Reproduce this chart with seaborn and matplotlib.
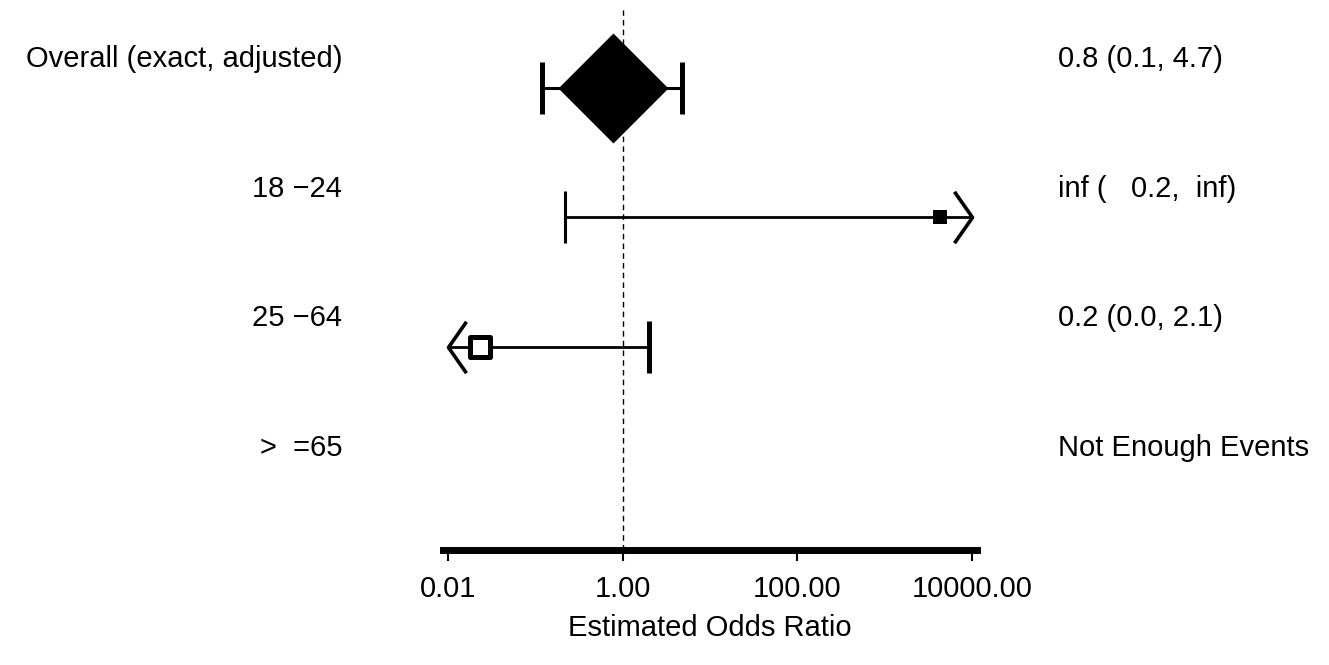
import numpy as np
import pandas as pd
import matplotlib
matplotlib.use("Agg")
import matplotlib.pyplot as plt
import seaborn as sns
from matplotlib import transforms
from matplotlib.ticker import FixedLocator, FixedFormatter, NullLocator

# ---------------- data ----------------
row_labels = ["Overall (exact, adjusted)", "18 \u221224", "25 \u221264", ">  =65"]
estimates = [0.77, 4300.0, 0.023, np.nan]
ci_lower = [0.12, 0.22, 0.01, np.nan]
ci_upper = [4.75, 10000.0, 2.0, np.nan]
lower_open = [False, False, True, False]   # CI runs off the left edge -> arrow
upper_open = [False, True, False, False]   # CI runs off the right edge -> arrow
summary_text = ["0.8 (0.1, 4.7)", "inf (   0.2,  inf)", "0.2 (0.0, 2.1)",
                "Not Enough Events"]
tick_values = [0.01, 1.0, 100.0, 10000.0]
tick_labels = ["0.01", "1.00", "100.00", "10000.00"]
x_title = "Estimated Odds Ratio"
reference_value = 1.0

# ---------------- styling ----------------
sns.set_style("white")
plt.rcParams["font.family"] = ["Liberation Sans", "DejaVu Sans"]

W, H = 1329, 665
fig = plt.figure(figsize=(W / 100, H / 100), dpi=100)
ax = fig.add_axes([443 / W, (H - 550) / H, 534 / W, 540 / H])

ax.set_xscale("log")
ax.set_xlim(10 ** -2.058, 10 ** 4.057)
ax.set_ylim(3.568, -0.602)

rows = np.arange(len(row_labels))

# reference line
ax.axvline(reference_value, color="black", lw=1.0, ls=(0, (4, 3)), zorder=1)

marker_styles = ["D", "s", "s", None]
marker_sizes = [3136, 100, 207, 0]
marker_faces = ["black", "black", "white", "white"]
marker_edges = [0, 0, 3.6, 0]
cap_widths = [3.6, 2.2, 3.6, 0]
line_widths = [2.2, 2.0, 2.0, 0]

right_chevron = [(-0.7, 1.0), (0.0, 0.0), (-0.7, -1.0)]
left_chevron = [(0.7, 1.0), (0.0, 0.0), (0.7, -1.0)]

for i, y in enumerate(rows):
    est, lo, hi = estimates[i], ci_lower[i], ci_upper[i]
    if np.isnan(est):
        continue
    ax.plot([lo, hi], [y, y], color="black", lw=line_widths[i], zorder=2,
            solid_capstyle="butt")
    # lower end
    if lower_open[i]:
        ax.plot([lo], [y], marker=left_chevron, ms=37, mfc="none", mec="black",
                mew=2.6, ls="none", zorder=3)
    else:
        ax.plot([lo], [y], marker="|", ms=37, mec="black", mew=cap_widths[i],
                ls="none", zorder=3)
    # upper end
    if upper_open[i]:
        ax.plot([hi], [y], marker=right_chevron, ms=37, mfc="none", mec="black",
                mew=2.6, ls="none", zorder=3)
    else:
        ax.plot([hi], [y], marker="|", ms=37, mec="black", mew=cap_widths[i],
                ls="none", zorder=3)
    # point estimate
    sns.scatterplot(x=[est], y=[y], ax=ax, marker=marker_styles[i],
                    s=marker_sizes[i], color=marker_faces[i],
                    edgecolor="black", linewidth=marker_edges[i], zorder=4,
                    legend=False)

# axis styling
for side in ["top", "left", "right"]:
    ax.spines[side].set_visible(False)
ax.spines["bottom"].set_linewidth(5)
ax.spines["bottom"].set_color("black")
ax.xaxis.set_major_locator(FixedLocator(tick_values))
ax.xaxis.set_major_formatter(FixedFormatter(tick_labels))
ax.xaxis.set_minor_locator(NullLocator())
ax.tick_params(axis="x", which="major", bottom=True, direction="out", length=8,
               width=1.5, pad=10, labelsize=21, colors="black")
ax.set_yticks([])
ax.set_ylabel("")
ax.set_xlabel(x_title, fontsize=21, labelpad=8, color="black")
ax.set_facecolor("white")
fig.patch.set_facecolor("white")

# row labels (left) and summaries (right)
trans = transforms.blended_transform_factory(fig.transFigure, ax.transData)
for i, y in enumerate(rows):
    ax.text(342 / W, y - 0.22, row_labels[i], transform=trans, ha="right",
            va="center", fontsize=21, color="black", clip_on=False)
    ax.text(1058 / W, y - 0.22, summary_text[i], transform=trans, ha="left",
            va="center", fontsize=21, color="black", clip_on=False)

fig.savefig("out.png", dpi=100, facecolor="white")
